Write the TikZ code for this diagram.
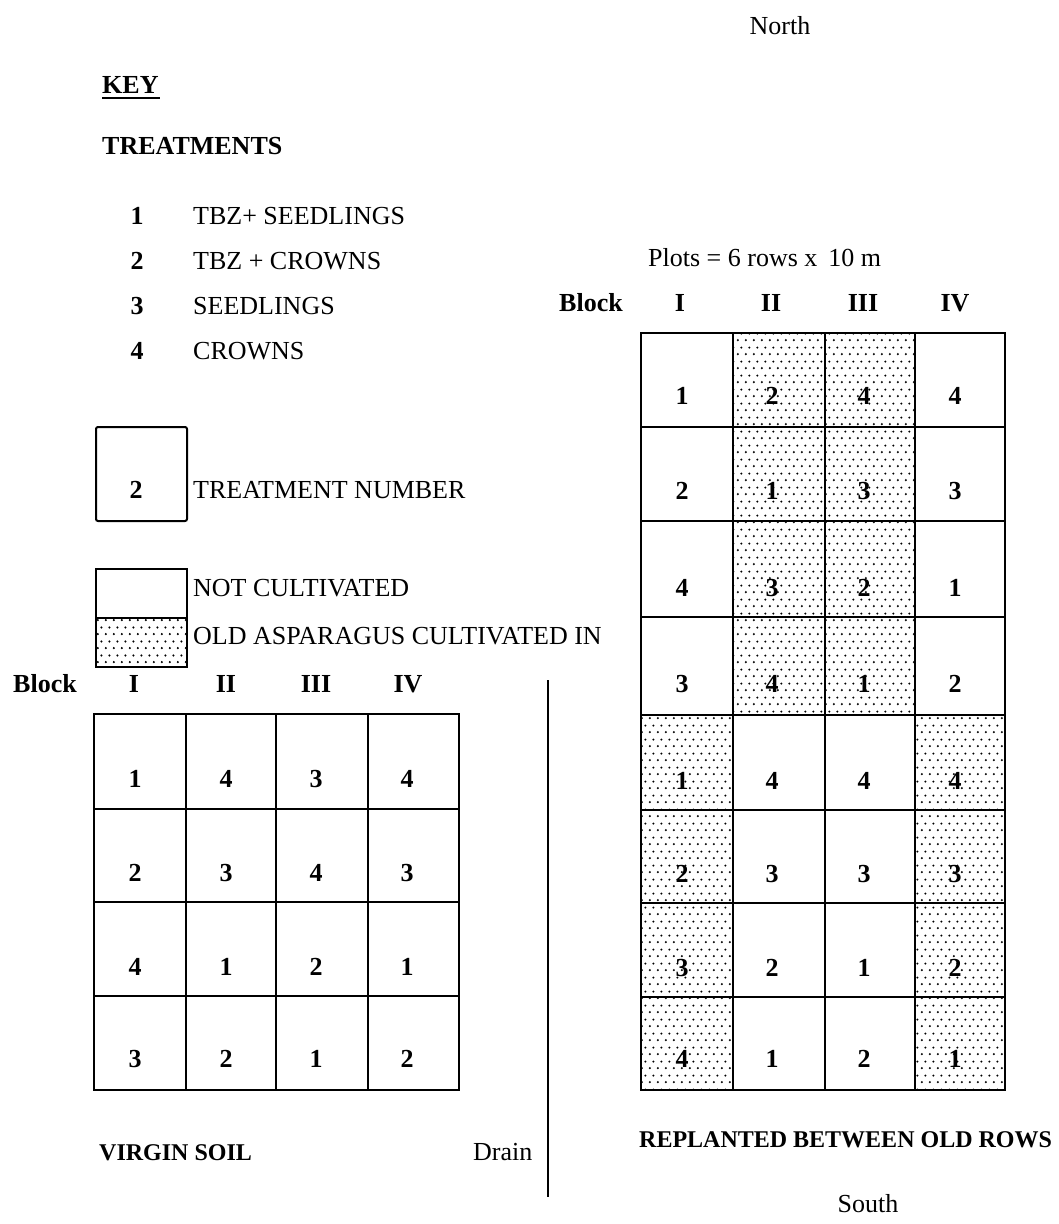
\documentclass[tikz,border=0pt]{standalone}
\usepackage{fontspec}
\setmainfont{Liberation Serif}
\usetikzlibrary{patterns}
\pgfdeclarepatternformonly{stipple}{\pgfqpoint{0pt}{0pt}}{\pgfqpoint{8pt}{14pt}}{\pgfqpoint{8pt}{14pt}}{%
  \pgfpathcircle{\pgfqpoint{2pt}{2pt}}{1.25pt}%
  \pgfpathcircle{\pgfqpoint{6pt}{9pt}}{1.25pt}%
  \pgfusepath{fill}}
\tikzset{
  txt/.style={inner sep=0pt, font=\fontsize{26}{31}\selectfont, anchor=base west},
  txtc/.style={inner sep=0pt, font=\fontsize{26}{31}\selectfont, anchor=base},
  bld/.style={inner sep=0pt, font=\fontsize{26}{31}\selectfont\bfseries, anchor=base west},
  bldc/.style={inner sep=0pt, font=\fontsize{26}{31}\selectfont\bfseries, anchor=base},
  lbl/.style={inner sep=0pt, font=\fontsize{24}{29}\selectfont\bfseries, anchor=base west},
  gridline/.style={line width=2pt, black},
  stip/.style={pattern=stipple, pattern color=black}
}
\begin{document}
\begin{tikzpicture}[x=1pt, y=-1pt]
\useasboundingbox (0,0) rectangle (1059,1224);
\fill[white] (0,0) rectangle (1059,1224);

% headings
\node[txtc] (north) at (780,34) {North};
\node[txtc] (south) at (868,1212) {South};
\node[bld] (key) at (102,93) {KEY};
\draw[line width=2pt] (key.base west) ++(0,5) -- ++(58,0);
\node[bld] (treat) at (102,154) {TREATMENTS};

% treatment list
\foreach \n/\t/\y in {1/TBZ+ SEEDLINGS/224, 2/TBZ + CROWNS/269, 3/SEEDLINGS/314, 4/CROWNS/359}{
  \node[bldc] (tn\n) at (137,\y) {\n};
  \node[txt] (tt\n) at (193,\y) {\t};
}

% key boxes
\draw[line width=2pt, rounded corners=2pt] (96,427) rectangle (187,521);
\node[bldc] (keytwo) at (136,498) {2};
\node[txt] (keytn) at (193,498) {TREATMENT NUMBER};
\fill[stip] (96,618) rectangle (187,667);
\draw[line width=1.8pt] (96,569) rectangle (187,667);
\draw[line width=1.8pt] (96,618) -- (187,618);
\node[txt] (keync) at (193,596) {NOT CULTIVATED};
\node[txt] (keyold) at (193,644) {OLD ASPARAGUS CULTIVATED IN};

% left grid header
\node[bld] (lblock) at (13,692) {Block};
\foreach \r/\x in {I/134, II/226, III/316, IV/408}{
  \node[bldc] (lh\r) at (\x,692) {\r};
}
% left grid
\draw[gridline] (94,714) rectangle (459,1090);
\foreach \x in {186,276,368}{ \draw[gridline] (\x,714) -- (\x,1090); }
\foreach \y in {809,902,996}{ \draw[gridline] (94,\y) -- (459,\y); }
\foreach \row/\y in {{1,4,3,4}/787, {2,3,4,3}/881, {4,1,2,1}/975, {3,2,1,2}/1067}{
  \foreach \v [count=\c] in \row {
    \pgfmathsetmacro{\xx}{{135,226,316,407}[\c-1]}
    \node[bldc] (l\c-\y) at (\xx,\y) {\v};
  }
}

% right grid header
\node[txt] (plots) at (648,266) {Plots = 6 rows x \,10 m};
\node[bld] (rblock) at (559,311) {Block};
\foreach \r/\x in {I/680, II/771, III/863, IV/955}{
  \node[bldc] (rh\r) at (\x,311) {\r};
}
% right grid stippling
\fill[stip] (733,333) rectangle (915,715);
\fill[stip] (641,715) rectangle (733,1090);
\fill[stip] (915,715) rectangle (1005,1090);
% right grid lines
\draw[gridline] (641,333) rectangle (1005,1090);
\foreach \x in {733,825,915}{ \draw[gridline] (\x,333) -- (\x,1090); }
\foreach \y in {427,521,617,810,903,997}{ \draw[gridline] (641,\y) -- (1005,\y); }
\draw[line width=2.4pt] (641,715) -- (1005,715);
\foreach \row/\y in {{1,2,4,4}/404, {2,1,3,3}/499, {4,3,2,1}/596, {3,4,1,2}/692,
                     {1,4,4,4}/789, {2,3,3,3}/882, {3,2,1,2}/976, {4,1,2,1}/1067}{
  \foreach \v [count=\c] in \row {
    \pgfmathsetmacro{\xx}{{682,772,864,955}[\c-1]}
    \node[bldc] (r\c-\y) at (\xx,\y) {\v};
  }
}

% drain
\coordinate (draintop) at (548,680);
\coordinate (drainbot) at (548,1197);
\draw[line width=2pt] (draintop) -- (drainbot);
\node[txt] (drain) at (473,1160) {Drain};

% bottom labels
\node[lbl] (virgin) at (99,1160) {VIRGIN SOIL};
\node[lbl] (replant) at (639,1147) {REPLANTED BETWEEN OLD ROWS};
\end{tikzpicture}
\end{document}
